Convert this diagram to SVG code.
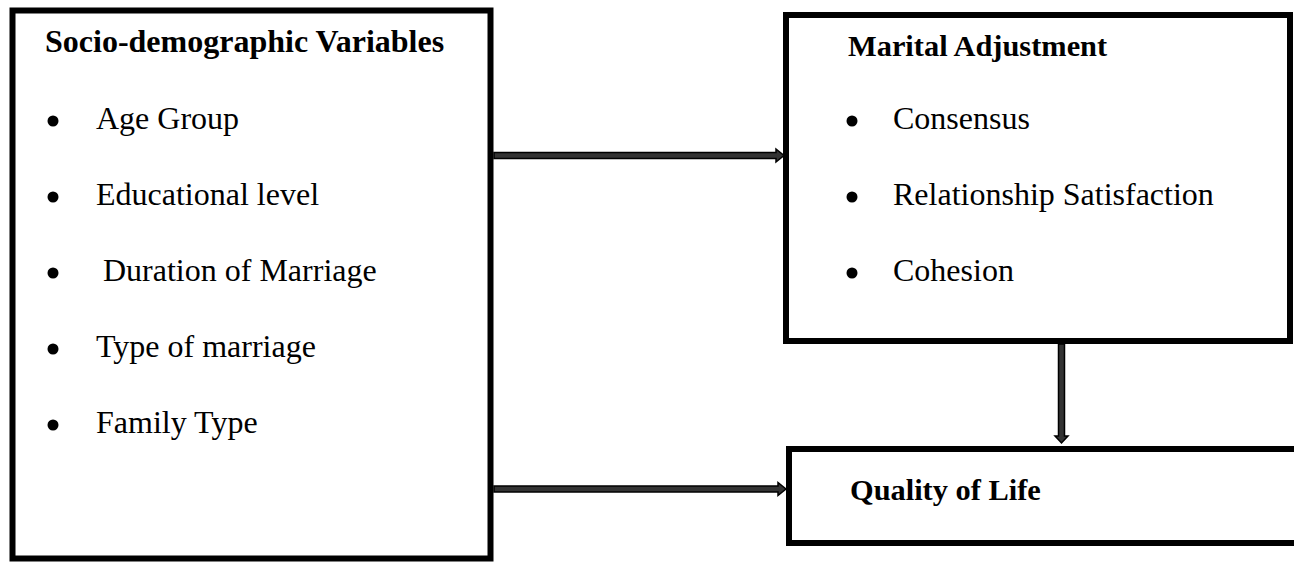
<svg xmlns="http://www.w3.org/2000/svg" width="1294" height="562" viewBox="0 0 1294 562">
<style>
.box{fill:#fff;stroke:#000;stroke-width:6}
.t{font-family:"Liberation Serif","Times New Roman",serif;font-size:32px;fill:#000}
.b{font-weight:bold}
.bul{fill:#000}
.arr{fill:#333;stroke:#000;stroke-width:1.5;stroke-linejoin:miter}
</style>
<rect width="1294" height="562" fill="#fff"/>
<g id="socio">
<rect class="box" x="12.5" y="10.5" width="478" height="548"/>
<text class="t b" x="45" y="52" font-size="32.4">Socio-demographic Variables</text>
<circle class="bul" cx="53" cy="121" r="5.5"/><text class="t" x="96" y="129">Age Group</text>
<circle class="bul" cx="53" cy="197" r="5.5"/><text class="t" x="96" y="205">Educational level</text>
<circle class="bul" cx="53" cy="273" r="5.5"/><text class="t" x="103" y="281">Duration of Marriage</text>
<circle class="bul" cx="53" cy="349" r="5.5"/><text class="t" x="96" y="357">Type of marriage</text>
<circle class="bul" cx="53" cy="425" r="5.5"/><text class="t" x="96" y="433">Family Type</text>
</g>
<g id="marital">
<rect class="box" x="786" y="15" width="504" height="326"/>
<text class="t b" x="848" y="56" style="font-size:30.4px">Marital Adjustment</text>
<circle class="bul" cx="852" cy="121" r="5.5"/><text class="t" x="893" y="129">Consensus</text>
<circle class="bul" cx="852" cy="197" r="5.5"/><text class="t" x="893" y="205">Relationship Satisfaction</text>
<circle class="bul" cx="852" cy="273" r="5.5"/><text class="t" x="893" y="281">Cohesion</text>
</g>
<g id="quality">
<rect class="box" x="789" y="449" width="520" height="94"/>
<text class="t b" x="850" y="500" style="font-size:30.4px">Quality of Life</text>
</g>
<g id="connectors">
<polygon class="arr" points="494,152.5 776,152.5 776,149 784,155.5 776,162 776,158.5 494,158.5"/>
<polygon class="arr" points="494,486 778,486 778,482.5 786,489 778,495.5 778,492 494,492"/>
<polygon class="arr" points="1058.5,344 1064.5,344 1064.5,436 1068,436 1061.5,443 1055,436 1058.5,436"/>
</g>
</svg>
